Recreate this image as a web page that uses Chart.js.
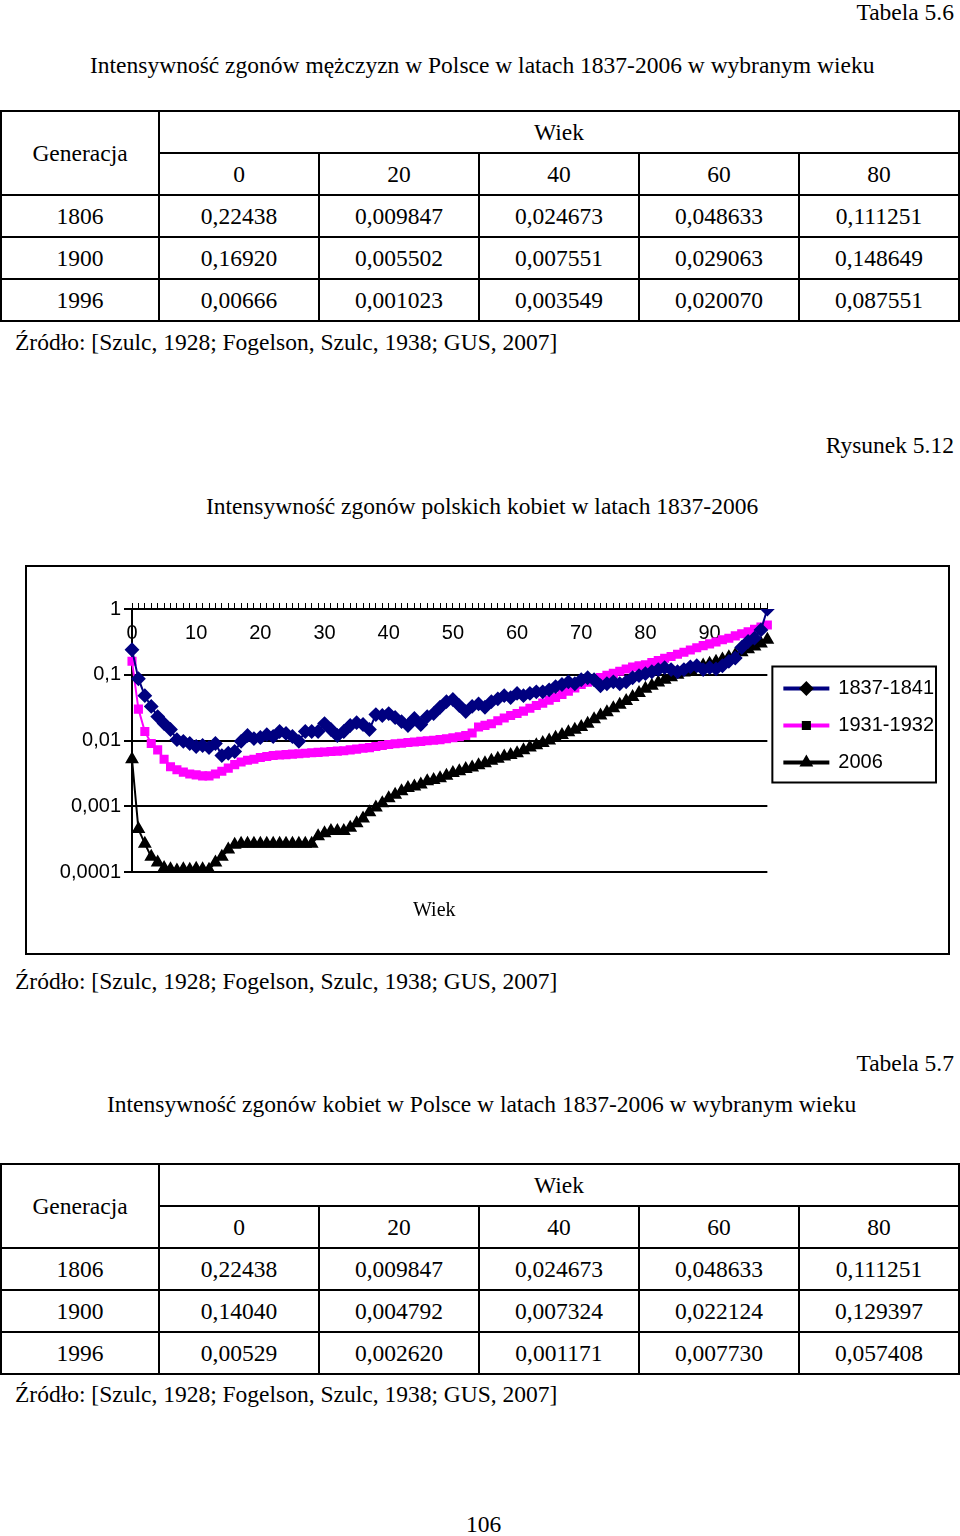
<!DOCTYPE html>
<html>
<head>
<meta charset="utf-8">
<script src="https://cdn.jsdelivr.net/npm/chart.js@4/dist/chart.umd.min.js"></script>
<style>
body { margin: 0; width: 960px; height: 1536px; position: relative; font-family: "Liberation Serif", serif; font-size: 23.5px; color: #000; background: #fff; }
.t { position: absolute; white-space: nowrap; line-height: 1; }
table { position: absolute; left: 0; width: 960px; border-collapse: collapse; table-layout: fixed; }
td { border: 2px solid #000; text-align: center; height: 40px; padding: 0; font-size: 23.5px; }
#box { position: absolute; left: 25px; top: 565px; width: 921px; height: 386px; border: 2px solid #000; }
</style>
</head>
<body>
<div class="t" style="right:6px;top:1px">Tabela 5.6</div>
<div class="t" style="left:90px;top:54px">Intensywność zgonów mężczyzn w Polsce w latach 1837-2006 w wybranym wieku</div>
<table style="top:110px">
<tr><td rowspan="2" style="width:156px">Generacja</td><td colspan="5">Wiek</td></tr>
<tr><td>0</td><td>20</td><td>40</td><td>60</td><td>80</td></tr>
<tr><td>1806</td><td>0,22438</td><td>0,009847</td><td>0,024673</td><td>0,048633</td><td>0,111251</td></tr>
<tr><td>1900</td><td>0,16920</td><td>0,005502</td><td>0,007551</td><td>0,029063</td><td>0,148649</td></tr>
<tr><td>1996</td><td>0,00666</td><td>0,001023</td><td>0,003549</td><td>0,020070</td><td>0,087551</td></tr>
</table>
<div class="t" style="left:15px;top:331px">Źródło: [Szulc, 1928; Fogelson, Szulc, 1938; GUS, 2007]</div>
<div class="t" style="right:6px;top:434px">Rysunek 5.12</div>
<div class="t" style="left:206px;top:495px">Intensywność zgonów polskich kobiet w latach 1837-2006</div>
<div id="box"><canvas id="myChart" width="921" height="386"></canvas></div>
<div class="t" style="left:413px;top:899px;font-size:20px">Wiek</div>
<div class="t" style="left:15px;top:970px">Źródło: [Szulc, 1928; Fogelson, Szulc, 1938; GUS, 2007]</div>
<div class="t" style="right:6px;top:1052px">Tabela 5.7</div>
<div class="t" style="left:107px;top:1093px">Intensywność zgonów kobiet w Polsce w latach 1837-2006 w wybranym wieku</div>
<table style="top:1163px">
<tr><td rowspan="2" style="width:156px">Generacja</td><td colspan="5">Wiek</td></tr>
<tr><td>0</td><td>20</td><td>40</td><td>60</td><td>80</td></tr>
<tr><td>1806</td><td>0,22438</td><td>0,009847</td><td>0,024673</td><td>0,048633</td><td>0,111251</td></tr>
<tr><td>1900</td><td>0,14040</td><td>0,004792</td><td>0,007324</td><td>0,022124</td><td>0,129397</td></tr>
<tr><td>1996</td><td>0,00529</td><td>0,002620</td><td>0,001171</td><td>0,007730</td><td>0,057408</td></tr>
</table>
<div class="t" style="left:15px;top:1383px">Źródło: [Szulc, 1928; Fogelson, Szulc, 1938; GUS, 2007]</div>
<div class="t" style="left:466px;top:1513px">106</div>

<script>
// wiek 0-99
const ages = [];
for (let i = 0; i < 100; i++) ages.push(String(i));

const yTicks = [1, 0.1, 0.01, 0.001, 0.0001];
const yTickLabels = ["1", "0,1", "0,01", "0,001", "0,0001"];

const gen1837 = [
    0.24, 0.087, 0.048, 0.033, 0.0231, 0.0181, 0.0147, 0.0103, 0.0097, 0.0090,
    0.0081, 0.0084, 0.0078, 0.0090, 0.0059, 0.0064, 0.0068, 0.0097, 0.0119, 0.0107,
    0.0111, 0.0123, 0.0115, 0.0137, 0.0128, 0.0115, 0.0097, 0.0137, 0.0137, 0.0137,
    0.0181, 0.0147, 0.0119, 0.0137, 0.0169, 0.0187, 0.0175, 0.0147, 0.0248, 0.024,
    0.0257, 0.0224, 0.0194, 0.0169, 0.0216, 0.0175, 0.0231, 0.0257, 0.032, 0.039,
    0.042, 0.034, 0.0275, 0.033, 0.036, 0.032, 0.039, 0.043, 0.048, 0.045,
    0.052, 0.048, 0.052, 0.055, 0.055, 0.059, 0.066, 0.071, 0.078, 0.073,
    0.084, 0.090, 0.084, 0.068, 0.073, 0.078, 0.073, 0.078, 0.090, 0.097,
    0.104, 0.111, 0.12, 0.128, 0.12, 0.111, 0.12, 0.132, 0.137, 0.12,
    0.128, 0.123, 0.137, 0.16, 0.18, 0.26, 0.32, 0.36, 0.48, 1.0
];

const gen1931 = [
    0.16, 0.030, 0.0137, 0.0090, 0.0072, 0.0052, 0.0040, 0.0036, 0.0033, 0.0031,
    0.0030, 0.0029, 0.0029, 0.0031, 0.0034, 0.0038, 0.0043, 0.0047, 0.0050, 0.0052,
    0.0055, 0.0057, 0.0059, 0.0060, 0.0061, 0.0062, 0.0063, 0.0064, 0.0065, 0.0066,
    0.0067, 0.0068, 0.0069, 0.0070, 0.0072, 0.0074, 0.0076, 0.0078, 0.0081, 0.0084,
    0.0087, 0.0089, 0.0091, 0.0093, 0.0095, 0.0097, 0.0099, 0.0101, 0.0103, 0.0106,
    0.0110, 0.0114, 0.0119, 0.0130, 0.0160, 0.0170, 0.0180, 0.0200, 0.0220, 0.0240,
    0.0257, 0.0280, 0.0310, 0.0340, 0.0370, 0.0410, 0.0450, 0.0500, 0.0560, 0.0630,
    0.071, 0.077, 0.084, 0.091, 0.098, 0.105, 0.113, 0.122, 0.131, 0.137,
    0.142, 0.153, 0.165, 0.178, 0.190, 0.205, 0.220, 0.238, 0.258, 0.277,
    0.295, 0.315, 0.34, 0.36, 0.39, 0.42, 0.45, 0.49, 0.53, 0.57
];

const gen2006 = [
    0.0052, 0.00045, 0.00027, 0.00017, 0.00014, 0.000115, 0.00011, 0.000105, 0.00011, 0.000108,
    0.000112, 0.00011, 0.000108, 0.00014, 0.00017, 0.00022, 0.00026, 0.00027, 0.00027, 0.00027,
    0.00027, 0.00027, 0.00027, 0.00027, 0.00027, 0.00027, 0.00027, 0.00027, 0.00027, 0.00035,
    0.00039, 0.00042, 0.00042, 0.00042, 0.00047, 0.00055, 0.00065, 0.00081, 0.00096, 0.00111,
    0.00132, 0.0015, 0.00169, 0.0019, 0.0020, 0.00215, 0.0024, 0.0025, 0.00266, 0.0029,
    0.0032, 0.0034, 0.0037, 0.0039, 0.0042, 0.0045, 0.0049, 0.0053, 0.0057, 0.0060,
    0.0064, 0.0071, 0.0078, 0.0085, 0.0092, 0.0100, 0.0110, 0.0121, 0.0133, 0.0146,
    0.016, 0.018, 0.021, 0.024, 0.027, 0.031, 0.035, 0.040, 0.046, 0.053,
    0.061, 0.068, 0.076, 0.084, 0.092, 0.100, 0.108, 0.118, 0.128, 0.138,
    0.147, 0.158, 0.170, 0.184, 0.200, 0.220, 0.245, 0.270, 0.30, 0.34
];

// ramka legendy + znaczniki na liniach legendy
const legendExtras = {
    id: "legendExtras",
    afterDraw(chart) {
        const lg = chart.legend;
        const c = chart.ctx;
        const hbs = lg.legendHitBoxes;
        c.save();
        c.strokeStyle = "#000";
        c.lineWidth = 2;
        const top = hbs[0].top - 12;
        const bottom = hbs[hbs.length - 1].top + hbs[hbs.length - 1].height + 10;
        c.strokeRect(hbs[0].left - 12, top, lg.right - 8 - (hbs[0].left - 12), bottom - top);
        hbs.forEach((hb, i) => {
            const ds = chart.data.datasets[i];
            const x = hb.left + lg.options.labels.boxWidth / 2;
            const y = hb.top + hb.height / 2;
            Chart.helpers.drawPoint(c, {
                pointStyle: ds.pointStyle,
                radius: ds.pointRadius,
                borderWidth: 1
            }, x, y);
        });
        c.restore();
    }
};

function mkSet(label, data, color, style, r) {
    return {
        label: label,
        data: data,
        borderColor: color,
        backgroundColor: color,
        pointBackgroundColor: color,
        pointBorderColor: color,
        pointStyle: style,
        pointRadius: r,
        borderWidth: 2,
        tension: 0
    };
}

new Chart(document.getElementById("myChart"), {
    type: "line",
    data: {
        labels: ages,
        datasets: [
            mkSet("1837-1841", gen1837, "#000080", "rectRot", 6),
            mkSet("1931-1932", gen1931, "#FF00FF", "rect", 5),
            mkSet("2006", gen2006, "#000000", "triangle", 6)
        ]
    },
    options: {
        responsive: false,
        animation: false,
        layout: { padding: { left: 10, top: 12, right: 4, bottom: 81 } },
        plugins: {
            tooltip: { enabled: false },
            legend: {
                position: "right",
                labels: {
                    color: "#000",
                    font: { family: "Liberation Sans", size: 20 },
                    boxWidth: 44,
                    boxHeight: 2,
                    padding: 17
                }
            }
        },
        scales: {
            x: {
                position: "top",
                offset: false,
                grid: { display: true, drawOnChartArea: false, color: "#000", tickLength: 6 },
                border: { color: "#000", width: 2 },
                ticks: {
                    mirror: true,
                    autoSkip: false,
                    maxRotation: 0,
                    padding: 12,
                    color: "#000",
                    font: { family: "Liberation Sans", size: 20 },
                    callback: (v, i) => (i % 10 === 0 ? ages[i] : "")
                }
            },
            y: {
                type: "logarithmic",
                min: 0.0001,
                max: 1,
                afterBuildTicks: s => { s.ticks = yTicks.map(v => ({ value: v })); },
                afterFit: s => { s.width = 95; },
                grid: { color: "#000", lineWidth: 2, tickLength: 8 },
                border: { color: "#000", width: 2 },
                ticks: {
                    color: "#000",
                    font: { family: "Liberation Sans", size: 20 },
                    callback: v => yTickLabels[yTicks.indexOf(v)]
                }
            }
        }
    },
    plugins: [legendExtras]
});
</script>
</body>
</html>
